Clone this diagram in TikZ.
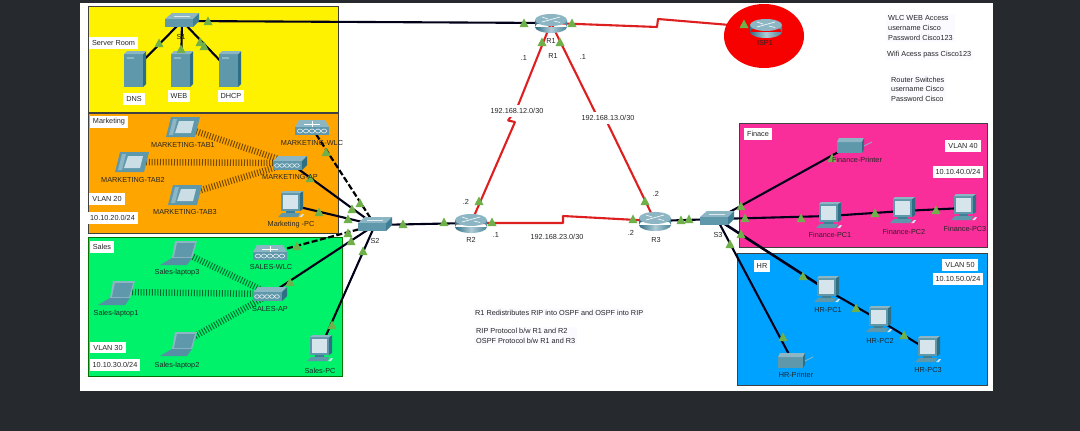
\documentclass[tikz,border=0pt]{standalone}
\usepackage{fontspec}
\setmainfont{Liberation Sans}
\definecolor{icoA}{HTML}{5F97AB}
\definecolor{icoB}{HTML}{3F7F96}
\definecolor{icoC}{HTML}{8DB6C4}
\definecolor{icoD}{HTML}{2F6F86}
\definecolor{scr}{HTML}{D6E4EB}
\definecolor{trig}{HTML}{6FB04A}
\definecolor{serial}{HTML}{DE1F1F}
\definecolor{pinkreg}{HTML}{FA2E9B}
\definecolor{bluereg}{HTML}{00A2FF}
\definecolor{greenreg}{HTML}{00F26B}
\definecolor{orangereg}{HTML}{FFA500}
\definecolor{frame}{HTML}{26292D}
\tikzset{
  x=1pt,y=-1pt,
  txt/.style={font=\fontsize{7.3}{9.6}\selectfont,text=black!85,inner sep=0pt,align=left},
  devlabel/.style={txt,align=center},
  boxlabel/.style={txt,fill=white,inner xsep=3pt,inner ysep=3pt},
  notelabel/.style={txt,fill=blue!2,inner xsep=2pt,inner ysep=2pt,anchor=west},
  region/.style={draw=black!75,line width=0.7pt},
  lan/.style={line width=2.1pt,draw=black!90!blue},
  wan/.style={line width=2.1pt,draw=serial,line join=bevel},
  wlcdash/.style={line width=2.2pt,draw=black,dash pattern=on 6pt off 2.5pt},
  wifi/.style={line width=6.5pt,draw=black,draw opacity=0.55,dash pattern=on 1pt off 1.8pt},
  linkup/.style={fill=trig},
  routericon/.pic={
    \shade[left color=icoD,right color=icoD!70!icoC,middle color=icoC!70!white] (-16,-3) rectangle (16,4) (0,4) ellipse[x radius=16,y radius=6];
    \fill[icoC] (0,-3) ellipse[x radius=16,y radius=6];
    \draw[white,line width=0.6pt] (-9,-1) -- (9,-6) (-9,-6) -- (-3,-4) (3,-2) -- (9,-0.5);
  },
  switchicon/.pic={
    \fill[icoC] (-17,-2) -- (-10,-8) -- (17,-8) -- (11,-2) -- cycle;
    \fill[icoA] (-17,-2) rectangle (11,6);
    \fill[icoB] (11,-2) -- (17,-8) -- (17,0) -- (11,6) -- cycle;
    \draw[white!80!icoA,line width=0.5pt] (-8,-5) -- (8,-5);
  },
  servericon/.pic={
    \fill[icoA] (-10,-16) rectangle (9,17);
    \fill[icoD] (9,-16) -- (12,-19) -- (12,14) -- (9,17) -- cycle;
    \fill[icoC] (-10,-16) -- (-7,-19) -- (12,-19) -- (9,-16) -- cycle;
    \fill[icoC] (-7,-13) rectangle (0,-11);
  },
  tableticon/.pic={
    \fill[icoA] (-17,10) -- (-12,-10) -- (17,-10) -- (12,10) -- cycle;
    \fill[icoC] (-14,8) -- (-10,-8) -- (-6,-8) -- (-10,8) -- cycle;
    \fill[scr!85!icoC] (-8,6) -- (-4,-6) -- (11,-6) -- (8,6) -- cycle;
  },
  laptopicon/.pic={
    \fill[icoC] (-11,6) -- (-8,-11) -- (14,-11) -- (9,6) -- cycle;
    \fill[icoA] (-9,5) -- (-6,-9) -- (12,-9) -- (8,5) -- cycle;
    \fill[icoB!70!icoC] (-23,13) -- (-11,6) -- (9,6) -- (4,13) -- cycle;
  },
  pcicon/.pic={
    \fill[icoA] (-10,-12) rectangle (9,6);
    \fill[icoD] (9,-12) -- (12,-14) -- (12,4) -- (9,6) -- cycle;
    \fill[icoC] (-10,-12) -- (-8,-14) -- (12,-14) -- (9,-12) -- cycle;
    \fill[scr] (-8,-10) rectangle (7,4);
    \fill[icoB] (-5,6) rectangle (4,8);
    \fill[icoA] (-13,12) -- (-9,8) -- (9,8) -- (7,12) -- cycle;
    \fill[scr] (8,12) -- (11,9) -- (13,9) -- (11,12) -- cycle;
  },
  apicon/.pic={
    \fill[icoC] (-17,-2) -- (-12,-7) -- (17,-7) -- (12,-2) -- cycle;
    \fill[icoA] (-17,-2) rectangle (12,7);
    \fill[icoD] (12,-2) -- (17,-7) -- (17,2) -- (12,7) -- cycle;
    \foreach \i in {-13,-8,-3,2,7} \draw[white,line width=0.5pt] (\i,2.5) ellipse[x radius=2.4,y radius=1.8];
  },
  wlcicon/.pic={
    \fill[icoC] (-17,-1) -- (-13,-8) -- (13,-8) -- (17,-1) -- cycle;
    \fill[icoA] (-17,-1) rectangle (17,7);
    \draw[white,line width=0.5pt] (-8,-4) -- (8,-4) (0,-7) -- (0,-1);
    \foreach \i in {-12,-6,0,6,12} \draw[white,line width=0.5pt] (\i,3) ellipse[x radius=2.6,y radius=2];
  },
  printericon/.pic={
    \fill[icoA] (-14,-3) rectangle (11,8);
    \fill[icoC] (-14,-3) -- (-12,-7) -- (13,-7) -- (11,-3) -- cycle;
    \fill[icoD] (11,-3) -- (13,-7) -- (13,4) -- (11,8) -- cycle;
    \draw[icoC,line width=0.8pt] (13,1) -- (21,-3);
  },
}
\newcommand\lab[3]{\node[devlabel] (#1) at (#2) {#3};}
\newcommand\blab[3]{\node[boxlabel] (#1) at (#2) {#3};}
\begin{document}
\begin{tikzpicture}
\useasboundingbox (0,0) rectangle (1080,431);
\fill[frame] (0,0) rectangle (1080,431);
\fill[white] (80,3) rectangle (993,391);

% regions
\draw[region,fill=yellow] (88,6) rectangle (338,112);
\draw[region,fill=orangereg] (88,113) rectangle (338,233);
\draw[region,fill=greenreg,draw=green!45!black] (88,237) rectangle (342,376);
\draw[region,fill=pinkreg] (739,123) rectangle (987,247);
\draw[region,fill=bluereg] (737,253) rectangle (987,385);

% device positions
\coordinate (S1) at (182,21);
\coordinate (S2) at (375,225);
\coordinate (S3) at (717,219);
\coordinate (R1) at (551,23);
\coordinate (R2) at (471,223);
\coordinate (R3) at (655,221);
\coordinate (ISP) at (766,28);
\coordinate (DNS) at (134,70);
\coordinate (WEB) at (181,70);
\coordinate (DHCP) at (229,70);
\coordinate (MT1) at (183,127);
\coordinate (MT2) at (132,162);
\coordinate (MT3) at (185,195);
\coordinate (MAP) at (290,163);
\coordinate (MWLC) at (312,128);
\coordinate (MPC) at (291,205);
\coordinate (SL3) at (183,252);
\coordinate (SL1) at (121,292);
\coordinate (SL2) at (183,343);
\coordinate (SAP) at (270,294);
\coordinate (SWLC) at (270,253);
\coordinate (SPC) at (320,349);
\coordinate (FPR) at (851,145);
\coordinate (FPC1) at (829,216);
\coordinate (FPC2) at (903,211);
\coordinate (FPC3) at (964,208);
\coordinate (HPC1) at (827,290);
\coordinate (HPC2) at (879,320);
\coordinate (HPC3) at (928,350);
\coordinate (HPR) at (792,360);
% serial jogs
\coordinate (isp1) at (657,27);
\coordinate (isp2) at (658,19);
\coordinate (r23a) at (563,223);
\coordinate (r23b) at (563,216);
\coordinate (r12a) at (517,108);
\coordinate (r12b) at (508,120.5);
\coordinate (r12c) at (515,122);
\coordinate (r13a) at (596,114);
\coordinate (r13b) at (606,120);

% connectors
\draw[lan] (S1) -- (R1);
\draw[lan] (S1) -- (DNS);
\draw[lan] (S1) -- (WEB);
\draw[lan] (S1) -- (DHCP);
\draw[lan] (S2) -- (R2);
\draw[lan] (R3) -- (S3);
\draw[lan] (S2) -- (MAP);
\draw[lan] (S2) -- (MPC);
\draw[lan] (S2) -- (SAP);
\draw[lan] (S2) -- (SPC);
\draw[wlcdash] (S2) -- (MWLC);
\draw[wlcdash] (S2) -- (SWLC);
\draw[lan] (S3) -- (FPR);
\draw[lan] (S3) -- (FPC1);
\draw[lan] (FPC1) -- (FPC2);
\draw[lan] (FPC2) -- (FPC3);
\draw[lan,line width=2.6pt] (S3) -- (HPC1);
\draw[lan] (HPC1) -- (HPC2);
\draw[lan] (HPC2) -- (HPC3);
\draw[lan] (S3) -- (HPR);
\draw[wan] (R1) -- (isp1) -- (isp2) -- (ISP);
\draw[wan] (R1) -- (r12a) -- (r12b) -- (r12c) -- (R2);
\draw[wan] (R1) -- (r13a) -- (r13b) -- (R3);
\draw[wan] (R2) -- (r23a) -- (r23b) -- (R3);
\draw[wifi] (MT1) -- (MAP);
\draw[wifi] (MT2) -- (MAP);
\draw[wifi] (MT3) -- (MAP);
\draw[wifi] (SL3) -- (SAP);
\draw[wifi] (SL1) -- (SAP);
\draw[wifi] (SL2) -- (SAP);
\fill[red!97!black] (764,36) ellipse[x radius=40,y radius=32];

% icons
\pic at (S1) {switchicon};
\pic at (S2) {switchicon};
\pic at (S3) {switchicon};
\pic at (R1) {routericon};
\pic at (R2) {routericon};
\pic at (R3) {routericon};
\pic at (ISP) {routericon};
\pic at (DNS) {servericon};
\pic at (WEB) {servericon};
\pic at (DHCP) {servericon};
\pic at (MT1) {tableticon};
\pic at (MT2) {tableticon};
\pic at (MT3) {tableticon};
\pic at (MAP) {apicon};
\pic at (MWLC) {wlcicon};
\pic at (MPC) {pcicon};
\pic at (SL3) {laptopicon};
\pic at (SL1) {laptopicon};
\pic at (SL2) {laptopicon};
\pic at (SAP) {apicon};
\pic at (SWLC) {wlcicon};
\pic at (SPC) {pcicon};
\pic at (FPR) {printericon};
\pic at (FPC1) {pcicon};
\pic at (FPC2) {pcicon};
\pic at (FPC3) {pcicon};
\pic at (HPC1) {pcicon};
\pic at (HPC2) {pcicon};
\pic at (HPC3) {pcicon};
\pic at (HPR) {printericon};

% link lights
\foreach \p in {(208,21),(159,43),(181,49),(200,42),(204,46),(524,23),(572,23),(542,42),(560,42),(744,24),
  (479,201),(492,222),(444,222),(645,201),(633,219),(681,220),(689,219),
  (326,152),(310,178),(360,203),(352,209),(319,212),(348,219),
  (297,246),(348,233),(351,241),(363,251),(290,282),(332,325),(403,224),
  (741,206),(745,218),(741,234),(730,244),(832,158),(801,218),(875,213),(936,210),
  (803,276),(856,308),(904,335),(783,337)}
  \fill[linkup] \p ++(-4.5,4) -- ++(9,0) -- ++(-4.5,-8.5) -- cycle;

% labels
\blab{lblSR}{113.5,43}{Server Room}
\blab{lblDNS}{134,99}{DNS}
\blab{lblWEB}{179,96}{WEB}
\blab{lblDHCP}{231,96}{DHCP}
\lab{lblS1}{181,37}{S1}
\blab{lblMk}{109,122}{Marketing}
\blab{lblV20}{107,199}{VLAN 20}
\blab{lblN20}{112.5,218}{10.10.20.0/24}
\lab{lblT1}{183,145}{MARKETING-TAB1}
\lab{lblT2}{133,180}{MARKETING-TAB2}
\lab{lblT3}{185,212}{MARKETING-TAB3}
\lab{lblMAP}{290,177}{MARKETING-AP}
\lab{lblMW}{312,143}{MARKETING-WLC}
\lab{lblMPC}{291,225}{Marketing -PC}
\blab{lblSa}{102,247}{Sales}
\blab{lblV30}{108,347.5}{VLAN 30}
\blab{lblN30}{115,365}{10.10.30.0/24}
\lab{lblL3}{177,273}{Sales-laptop3}
\lab{lblL1}{116,314}{Sales-laptop1}
\lab{lblL2}{177,366}{Sales-laptop2}
\lab{lblSW}{271,267}{SALES-WLC}
\lab{lblSAP}{270,309}{SALES-AP}
\lab{lblSPC}{320,371}{Sales-PC}
\lab{lblS2}{375,241}{S2}
\lab{lblR1a}{551,41}{R1}
\lab{lblR1b}{553,56}{R1}
\lab{lblD1}{524,58}{.1}
\lab{lblD2}{583,57}{.1}
\blab{lblN12}{517,111}{192.168.12.0/30}
\blab{lblN13}{608,118}{192.168.13.0/30}
\lab{lblD3}{466,202}{.2}
\lab{lblD4}{656,194}{.2}
\lab{lblD5}{496,235}{.1}
\lab{lblD6}{631,233}{.2}
\lab{lblR2}{471,240}{R2}
\lab{lblR3}{656,240}{R3}
\lab{lblS3}{718,235}{S3}
\lab{lblISP}{765,43}{ISP1}
\blab{lblN23}{557,237}{192.168.23.0/30}
\blab{lblFi}{758,134}{Finace}
\blab{lblV40}{963,146}{VLAN 40}
\blab{lblN40}{958,172}{10.10.40.0/24}
\lab{lblFP}{857,160}{Finance-Printer}
\lab{lblF1}{830,235}{Finance-PC1}
\lab{lblF2}{904,232}{Finance-PC2}
\lab{lblF3}{965,229}{Finance-PC3}
\blab{lblHR}{762,266}{HR}
\blab{lblV50}{960,265}{VLAN 50}
\blab{lblN50}{958,279}{10.10.50.0/24}
\lab{lblH1}{828,310}{HR-PC1}
\lab{lblH2}{880,341}{HR-PC2}
\lab{lblH3}{928,370}{HR-PC3}
\lab{lblHP}{796,375}{HR-Printer}
\node[notelabel] (noteWLC) at (886,28) {WLC WEB Access\\username Cisco\\Password Cisco123};
\node[notelabel] (noteWifi) at (885,55) {Wifi Acess pass Cisco123};
\node[notelabel] (noteRS) at (889,89) {Router Switches\\username Cisco\\Password Cisco};
\node[notelabel] (noteRedis) at (473,313) {R1 Redistributes RIP into OSPF and OSPF into RIP};
\node[notelabel] (noteProto) at (474,336) {RIP Protocol b/w R1 and R2\\OSPF Protocol b/w R1 and R3};
\end{tikzpicture}
\end{document}
